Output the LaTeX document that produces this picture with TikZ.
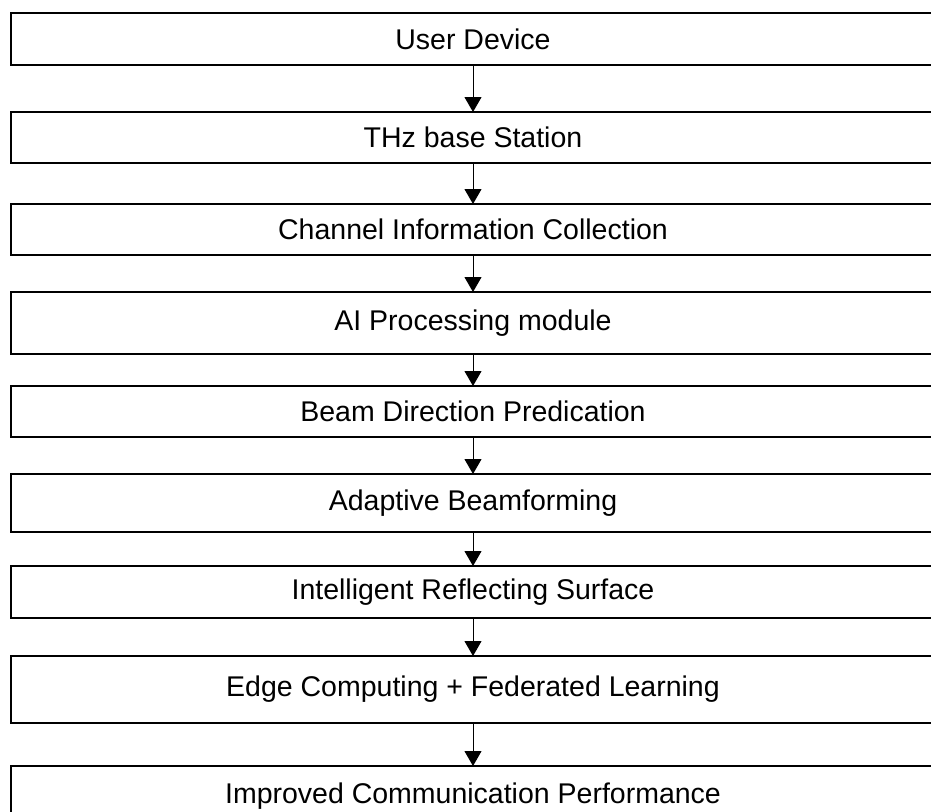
\documentclass[tikz,border=0pt]{standalone}
\usepackage{fontspec}
\setmainfont{Liberation Sans}
\usepackage{tikz}
\usetikzlibrary{positioning,arrows.meta}

\begin{document}
\begin{tikzpicture}[
		stage/.style={draw,
			line width=1pt,
			outer sep=0pt,
			minimum width=462pt,
			font=\fontsize{14.25pt}{17pt}\selectfont
			},
		flow/.style={-{Triangle[length=7.5pt,width=8.5pt]},
			line width=0.5pt
			}
		]
			\clip (0,0) rectangle (465.5pt,-405.5pt);

			% User Device
			\node [stage,
				minimum height=26pt
				] (dev) at (236.5pt,-19.5pt) {User Device};

			% THz base Station
			\node [stage,
				minimum height=25.5pt,
				below=23.5pt of dev
				] (bs) {THz base Station};

			% Channel Information Collection
			\node [stage,
				minimum height=25.5pt,
				below=20.5pt of bs
				] (cic) {Channel Information Collection};

			% AI Processing module
			\node [stage,
				minimum height=31pt,
				below=18.5pt of cic
				] (aipm) {AI Processing module};

			% Beam Direction Predication
			\node [stage,
				minimum height=25.5pt,
				below=16pt of aipm
				] (bdp) {Beam Direction Predication};

			% Adaptive Beamforming
			\node [stage,
				minimum height=29pt,
				below=18.5pt of bdp
				] (ab) {Adaptive Beamforming};

			% Intelligent Reflecting Surface
			\node [stage,
				minimum height=26pt,
				below=17pt of ab
				] (irs) {Intelligent Reflecting Surface};

			% Edge Computing + Federated Learning
			\node [stage,
				minimum height=33.5pt,
				below=19pt of irs
				] (ecfl) {Edge Computing + Federated Learning};

			% Improved Communication Performance
			\node [stage,
				minimum height=30pt,
				below=21.5pt of ecfl
				] (icp) {Improved Communication Performance};

			% Arrows
			\draw[flow] (dev.south) -- (bs.north);
			\draw[flow] (bs.south) -- (cic.north);
			\draw[flow] (cic.south) -- (aipm.north);
			\draw[flow] (aipm.south) -- (bdp.north);
			\draw[flow] (bdp.south) -- (ab.north);
			\draw[flow] (ab.south) -- (irs.north);
			\draw[flow] (irs.south) -- (ecfl.north);
			\draw[flow] (ecfl.south) -- (icp.north);

		\end{tikzpicture}
\end{document}
